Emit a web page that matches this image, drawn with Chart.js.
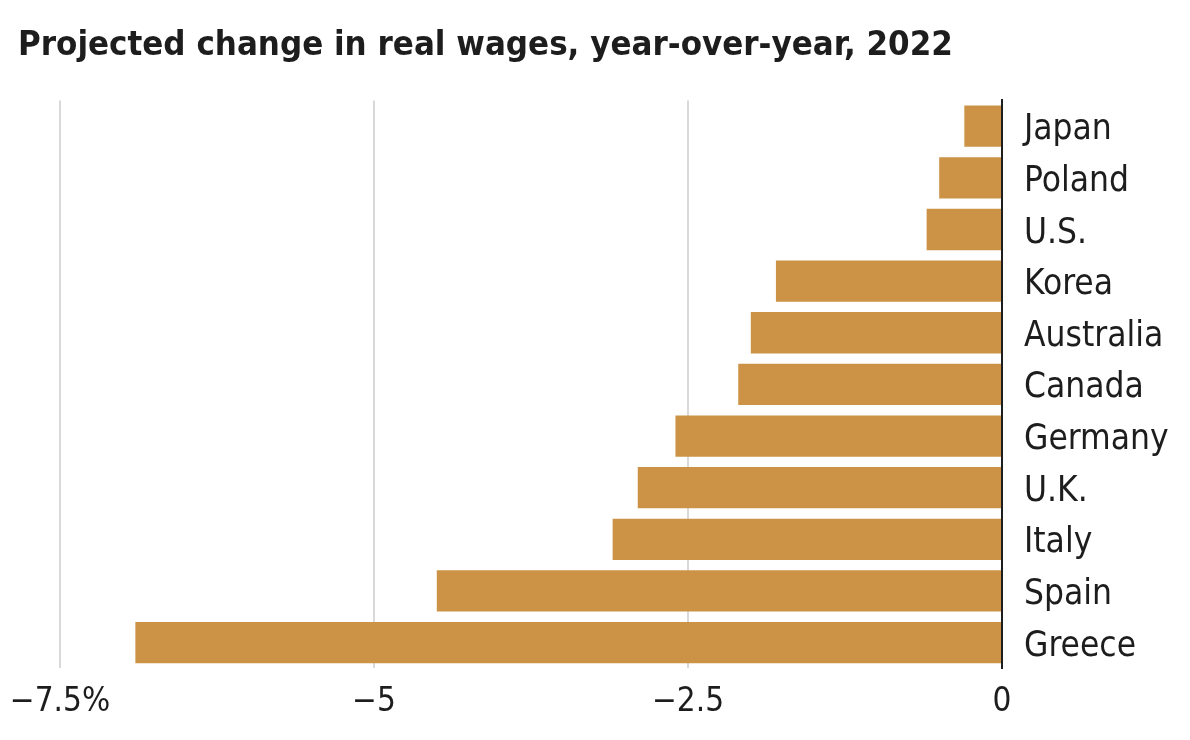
<!DOCTYPE html>
<html lang="en">
<head>
  <meta charset="UTF-8" />
  <title>Real wages 2022</title>
  <script src="https://cdn.jsdelivr.net/npm/chart.js"></script>
  <style>
    html, body { margin: 0; padding: 0; background: #fff; }
    #wrap { width: 1190px; height: 740px; }
  </style>
</head>
<body>
  <div id="wrap"><canvas id="wagesChart"></canvas></div>

  <script>
    // values, percent change
    const countries = ['Japan', 'Poland', 'U.S.', 'Korea', 'Australia', 'Canada', 'Germany', 'U.K.', 'Italy', 'Spain', 'Greece'];
    const wageChange = [-0.3, -0.5, -0.6, -1.8, -2.0, -2.1, -2.6, -2.9, -3.1, -4.5, -6.9];
    const tickValues = [-7.5, -5, -2.5, 0];
    const tickLabels = ['\u22127.5%', '\u22125', '\u22122.5', '0'];

    const FONT = '"DejaVu Sans Condensed", "DejaVu Sans", sans-serif';
    const INK = '#1d1d1d';

    const ctx = document.getElementById('wagesChart').getContext('2d');
    new Chart(ctx, {
      type: 'bar',
      data: {
        labels: countries,
        datasets: [{
          data: wageChange,
          backgroundColor: '#cc9346',
          borderWidth: 0,
          barPercentage: 0.8,
          categoryPercentage: 1
        }]
      },
      options: {
        indexAxis: 'y',
        responsive: true,
        maintainAspectRatio: false,
        animation: false,
        layout: { padding: { left: 18, right: 0, top: 0, bottom: 4 } },
        plugins: {
          legend: { display: false },
          tooltip: { enabled: false },
          title: {
            display: true,
            text: 'Projected change in real wages, year-over-year, 2022',
            align: 'start',
            color: INK,
            font: { family: FONT, size: 34.5, weight: 'bold' },
            padding: { top: 25, bottom: 34 }
          }
        },
        scales: {
          x: {
            min: -7.5,
            max: 0,
            afterBuildTicks: s => { s.ticks = tickValues.map(v => ({ value: v })); },
            afterFit: s => { s.paddingLeft = 60; },
            ticks: {
              color: INK,
              padding: 14,
              maxRotation: 0,
              font: { family: FONT, size: 33 },
              callback: v => tickLabels[tickValues.indexOf(v)]
            },
            grid: { color: '#d9d9d9', lineWidth: 2, drawTicks: false },
            border: { display: false }
          },
          y: {
            position: 'right',
            afterFit: s => { s.width = 188; },
            ticks: {
              color: INK,
              padding: 22,
              labelOffset: 4,
              font: { family: FONT, size: 35 }
            },
            grid: { display: false, drawTicks: false },
            border: { display: true, color: '#1d1d1d', width: 2 }
          }
        }
      }
    });
  </script>
</body>
</html>
